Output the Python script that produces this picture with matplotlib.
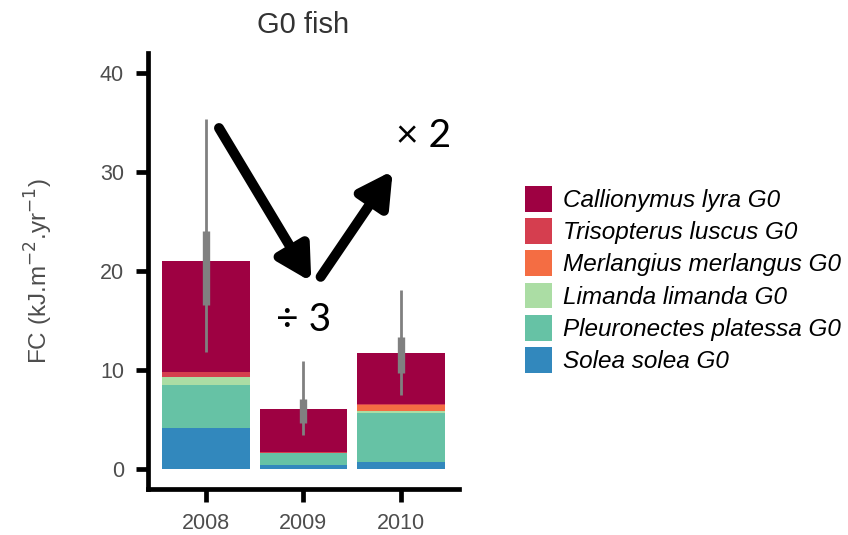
import matplotlib
matplotlib.use("Agg")
import matplotlib.pyplot as plt
from matplotlib.patches import Patch
import numpy as np

years = ["2008", "2009", "2010"]
species = [
    "Solea solea G0",
    "Pleuronectes platessa G0",
    "Limanda limanda G0",
    "Merlangius merlangus G0",
    "Trisopterus luscus G0",
    "Callionymus lyra G0",
]
colors = ["#3288BD", "#66C2A5", "#ABDDA4", "#F46D43", "#D53E4F", "#9E0142"]

# consumption per species (kJ m-2 yr-1), stacked bottom to top
solea = [4.13, 0.40, 0.74]
pleuronectes = [4.37, 1.20, 4.91]
limanda = [0.76, 0.03, 0.23]
merlangius = [0.05, 0.02, 0.61]
trisopterus = [0.50, 0.05, 0.05]
callionymus = [11.23, 4.40, 5.20]

# uncertainty of the total: outer and inner intervals
outer_low = [11.8, 3.4, 7.5]
outer_high = [35.3, 10.9, 18.1]
inner_low = [16.6, 4.7, 9.7]
inner_high = [24.0, 7.1, 13.35]

series = [solea, pleuronectes, limanda, merlangius, trisopterus, callionymus]

fig = plt.figure(figsize=(8.48, 5.35), dpi=100)
W, H = 848, 535
ax = fig.add_axes([147.5 / W, 1 - 489 / H, (459.3 - 147.5) / W, (489 - 52.7) / H])

x = np.arange(len(years))
bottom = np.zeros(len(years))
for vals, col in zip(series, colors):
    vals = np.array(vals)
    ax.bar(x, vals, width=0.9, bottom=bottom, color=col, linewidth=0)
    bottom += vals

grey = "#808080"
ax.vlines(x, outer_low, outer_high, color=grey, linewidth=2.0, zorder=3)
ax.vlines(x, inner_low, inner_high, color=grey, linewidth=5.3, zorder=3)

ax.set_xlim(-0.6, 2.6)
ax.set_ylim(-2, 42)
ax.set_xticks(x)
ax.set_xticklabels(years)
ax.set_yticks([0, 10, 20, 30, 40])

for side in ["top", "right"]:
    ax.spines[side].set_visible(False)
for side in ["left", "bottom"]:
    ax.spines[side].set_linewidth(3.4)
    ax.spines[side].set_capstyle("projecting")
ax.tick_params(axis="both", length=9, width=3.4, color="black",
               labelsize=15.5, labelcolor="#4D4D4D", pad=8)
for lab in ax.get_xticklabels() + ax.get_yticklabels():
    lab.set_family("Liberation Sans")

ax.set_ylabel(r"FC (kJ.m$^{-2}$.yr$^{-1}$)", fontsize=17.5, color="#4D4D4D",
              family="Liberation Sans", labelpad=32)
ax.set_title("G0 fish", fontsize=21, color="#333333", family="Liberation Sans", pad=14)

# trend arrows between years
arrow_kw = dict(arrowstyle="-|>,head_length=2.0,head_width=1.1", color="black",
                lw=7.2, shrinkA=0, shrinkB=0)
ax.annotate("", xy=(1.081, 18.9), xytext=(0.134, 34.4), xycoords="data",
            arrowprops=arrow_kw, annotation_clip=False)
ax.annotate("", xy=(1.917, 30.1), xytext=(1.177, 19.4), xycoords="data",
            arrowprops=arrow_kw, annotation_clip=False)
ax.text(2.23, 33.6, "× 2", fontsize=28, family="Lato", ha="center", va="center")
ax.text(1.0, 15.0, "÷ 3", fontsize=28, family="Lato", ha="center", va="center")

handles = [Patch(facecolor=c, edgecolor="none") for c in colors[::-1]]
leg = fig.legend(handles, species[::-1], loc="upper left",
                 bbox_to_anchor=(525 / W, 1 - 186 / H), frameon=False,
                 prop={"family": "Liberation Sans", "style": "italic", "size": 17.5},
                 handlelength=1.12, handleheight=1.25, labelspacing=0.255,
                 handletextpad=0.45, borderpad=0, borderaxespad=0)

fig.savefig("out.png", dpi=100)
